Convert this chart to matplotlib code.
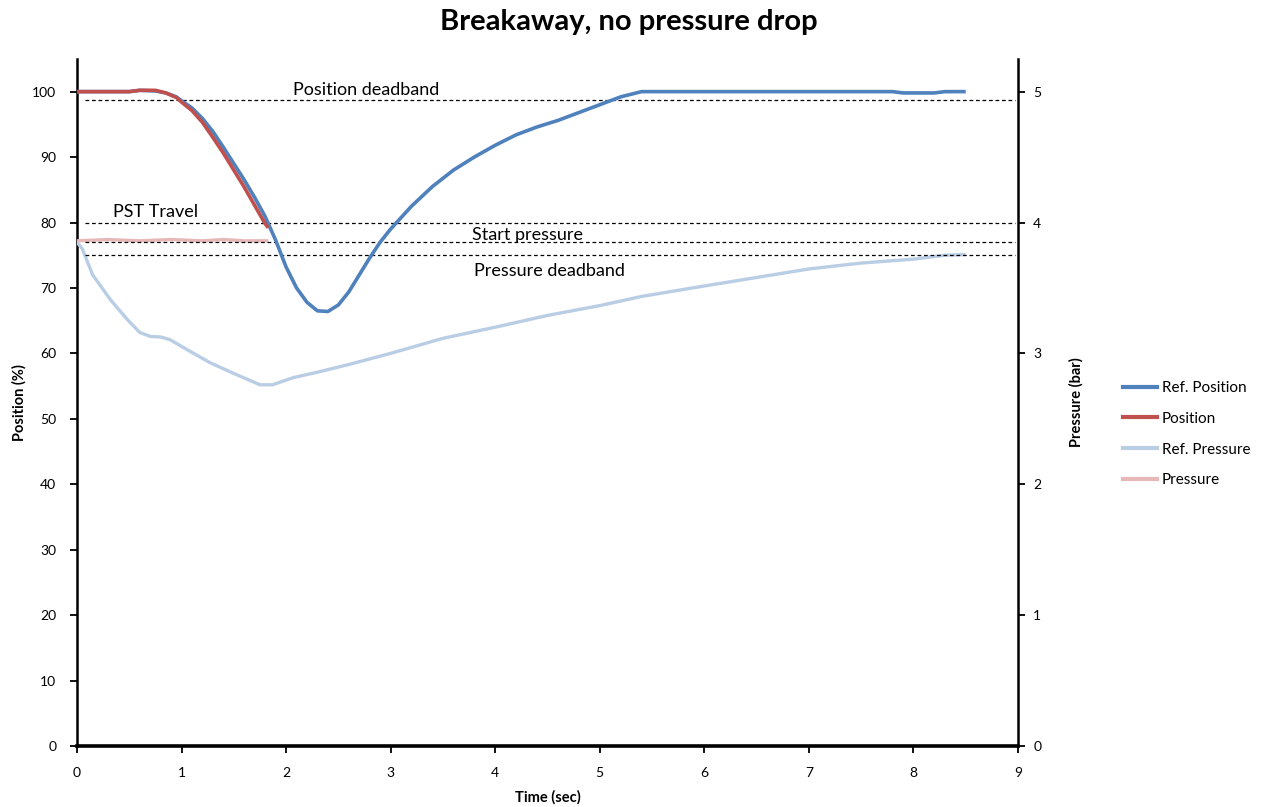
import matplotlib
matplotlib.use("Agg")
import matplotlib.pyplot as plt
from matplotlib.lines import Line2D

plt.rcParams['font.family'] = ['Lato', 'DejaVu Sans']

# Reference position trace (%)
ref_pos_t = [0.0, 0.5, 0.6, 0.75, 0.85, 0.95, 1.0, 1.1, 1.2, 1.3, 1.4, 1.5, 1.6, 1.7, 1.8,
             1.9, 2.0, 2.1, 2.2, 2.3, 2.4, 2.5, 2.6, 2.7, 2.8, 2.9, 3.0, 3.2, 3.4, 3.6,
             3.8, 4.0, 4.2, 4.4, 4.6, 4.8, 5.0, 5.2, 5.4, 7.8, 7.9, 8.2, 8.3, 8.5]
ref_pos_v = [100.0, 100.0, 100.2, 100.1, 99.8, 99.2, 98.6, 97.5, 95.9, 93.9, 91.5, 89.0, 86.5,
             83.8, 80.9, 77.3, 73.2, 70.0, 67.8, 66.5, 66.4, 67.4, 69.4, 72.0, 74.6, 77.0,
             79.0, 82.5, 85.5, 88.0, 90.0, 91.8, 93.4, 94.6, 95.6, 96.8, 98.0, 99.2, 100.0,
             100.0, 99.8, 99.8, 100.0, 100.0]

# Measured position trace (%)
pos_t = [0.0, 0.5, 0.6, 0.75, 0.85, 0.95, 1.0, 1.1, 1.2, 1.3, 1.4, 1.5, 1.6, 1.7, 1.8, 1.83]
pos_v = [100.0, 100.0, 100.2, 100.2, 99.8, 99.1, 98.4, 97.1, 95.3, 93.0, 90.6, 88.0, 85.4,
         82.6, 79.8, 79.2]

# Reference pressure trace (bar)
ref_pres_t = [0.0, 0.05, 0.15, 0.32, 0.48, 0.6, 0.7, 0.8, 0.89, 1.05, 1.27, 1.49, 1.75, 1.87,
              2.07, 2.32, 2.6, 3.0, 3.5, 4.0, 4.5, 5.0, 5.4, 6.0, 6.5, 7.0, 7.5, 8.0, 8.3, 8.5]
ref_pres_v = [3.85, 3.80, 3.60, 3.41, 3.26, 3.16, 3.13, 3.125, 3.105, 3.03, 2.93, 2.85, 2.76,
              2.76, 2.815, 2.86, 2.915, 3.00, 3.115, 3.20, 3.29, 3.365, 3.435, 3.515, 3.58,
              3.645, 3.69, 3.72, 3.75, 3.755]

# Measured pressure trace (bar)
pres_t = [0.0, 0.3, 0.6, 0.9, 1.2, 1.4, 1.6, 1.83]
pres_v = [3.86, 3.87, 3.86, 3.87, 3.86, 3.87, 3.86, 3.86]

# Threshold lines (position %) and their labels
thresholds = [98.7, 80.0, 77.0, 75.0]
threshold_labels = ["Position deadband", "PST Travel", "Start pressure", "Pressure deadband"]
label_pos = [(2.77, 100.3), (0.755, 81.6), (4.31, 78.1), (4.52, 72.6)]

x_ticks = list(range(0, 10))
pos_ticks = list(range(0, 101, 10))
pres_ticks = list(range(0, 6))

fig = plt.figure(figsize=(12.66, 8.07), dpi=100)
ax = fig.add_axes([0.0608, 0.0756, 0.7433, 0.8514])
ax2 = ax.twinx()

c_ref_pos = "#4F81BD"
c_pos = "#C0504D"
c_ref_pres = "#B9CDE5"
c_pres = "#E6B9B8"

ax2.plot(ref_pres_t, ref_pres_v, color=c_ref_pres, lw=2.4, solid_capstyle='butt', zorder=2)
ax2.plot(pres_t, pres_v, color=c_pres, lw=2.4, solid_capstyle='butt', zorder=3)

for y in thresholds:
    ax2.plot([0.08, 8.97], [y / 20.0, y / 20.0], color='black', lw=0.9,
             dashes=(3.0, 2.2), zorder=4)
for txt, (tx, ty) in zip(threshold_labels, label_pos):
    ax2.text(tx, ty / 20.0, txt, ha='center', va='center', fontsize=13, color='black',
             zorder=6)

ax2.plot(ref_pos_t, [v / 20.0 for v in ref_pos_v], color=c_ref_pos, lw=2.6,
         solid_capstyle='butt', zorder=5)
ax2.plot(pos_t, [v / 20.0 for v in pos_v], color=c_pos, lw=2.6,
         solid_capstyle='butt', zorder=5)

ax.set_xlim(0, 9)
ax.set_ylim(0, 105)
ax2.set_ylim(0, 5.25)
ax.set_xticks(x_ticks)
ax.set_yticks(pos_ticks)
ax2.set_yticks(pres_ticks)

for a in (ax, ax2):
    a.spines['top'].set_visible(False)
    a.tick_params(direction='out', length=5, width=1.3, labelsize=10, pad=6)
ax.spines['left'].set_linewidth(1.8)
ax.spines['bottom'].set_linewidth(2.6)
ax2.spines['right'].set_linewidth(1.8)
ax2.spines['left'].set_visible(False)
ax2.spines['bottom'].set_visible(False)
ax.spines['right'].set_visible(False)
ax.tick_params(axis='y', pad=10)
ax.tick_params(axis='x', pad=10)

ax.set_xlabel("Time (sec)", fontsize=10.5, fontweight='bold', labelpad=8)
ax.set_ylabel("Position (%)", fontsize=10.5, fontweight='bold', labelpad=4)
ax2.set_ylabel("Pressure (bar)", fontsize=10.5, fontweight='bold', labelpad=20)

fig.text(0.497, 0.973, "Breakaway, no pressure drop", ha='center', va='center',
         fontsize=21, fontweight='bold')

handles = [Line2D([], [], color=c, lw=3) for c in (c_ref_pos, c_pos, c_ref_pres, c_pres)]
fig.legend(handles, ["Ref. Position", "Position", "Ref. Pressure", "Pressure"],
           loc='center left', bbox_to_anchor=(0.887, 0.462), frameon=False, fontsize=11,
           handlelength=2.2, handletextpad=0.35, labelspacing=1.1, borderpad=0,
           borderaxespad=0)

fig.savefig("out.png", dpi=100)
